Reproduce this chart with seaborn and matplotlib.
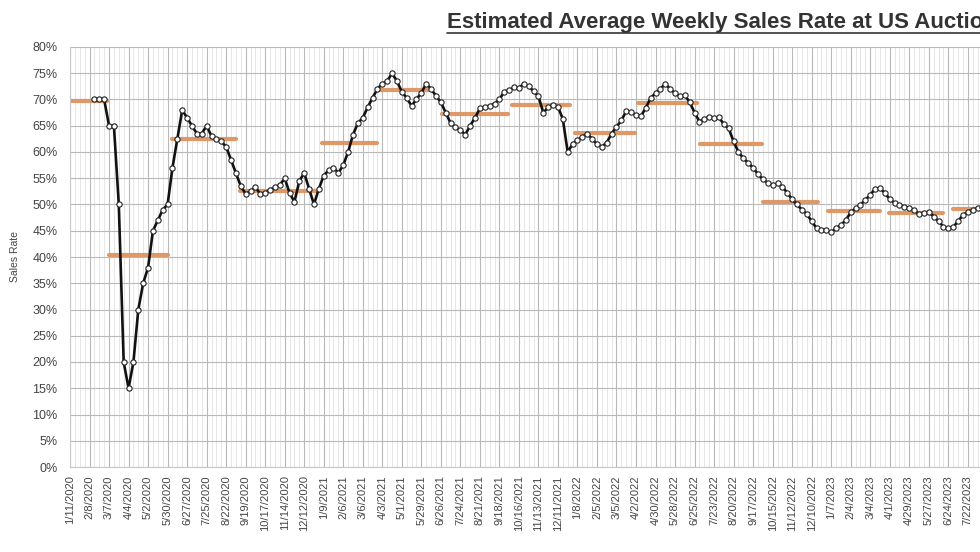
import matplotlib
matplotlib.use("Agg")
import matplotlib.pyplot as plt
from matplotlib.lines import Line2D
import numpy as np
import pandas as pd
import seaborn as sns

# ---------------- data ----------------
axis_start = "2020-01-11"          # first category on the axis
first_point = "2020-02-15"         # first weekly observation
sales_rate = [
    70, 70, 70, 65, 65, 50, 20, 15, 20, 30, 35, 38, 45, 47, 49, 50,
    57, 62.5, 68, 66.5, 65, 63.5, 63.5, 65, 63, 62.5, 62, 61, 58.5, 56,
    53.5, 52, 52.5, 53.3, 52, 52.2, 52.8, 53.3, 53.7, 55, 52.2, 50.5, 54.5, 56,
    53, 50, 53, 55.5, 56.5, 57, 56, 57.5, 60, 63.3, 65.5, 66.5, 68.5, 70.3,
    72, 73, 73.5, 75, 73.5, 71.5, 70.3, 68.8, 70, 71.3, 73, 72, 70.7, 69.5,
    67.5, 65.5, 64.7, 64.2, 63.3, 65, 66.5, 68.3, 68.6, 68.8, 69.2, 70, 71.5, 71.8,
    72.3, 72.2, 73, 72.5, 71.6, 70.6, 67.5, 68.5, 69, 68.6, 66.3, 60, 61.5, 62.3,
    62.9, 63.5, 62.5, 61.5, 61, 61.8, 63.5, 64.8, 66, 67.8, 67.6, 67, 66.8, 68.4,
    70.3, 71.2, 72, 73, 72, 71.2, 70.6, 70.8, 69.5, 67.5, 65.8, 66.3, 66.7, 66.5,
    66.6, 65.3, 64.5, 62, 60, 58.8, 57.9, 57, 55.8, 54.8, 54.1, 53.7, 54, 53.4,
    52.2, 51, 50, 49, 48.2, 46.8, 45.5, 45.1, 45.1, 44.7, 45.5, 46.1, 47, 48.5,
    49.3, 49.9, 50.9, 51.8, 53, 53.1, 52.2, 51, 50.3, 49.9, 49.6, 49.3, 49, 48.1,
    48.3, 48.6, 47.7, 46.8, 45.8, 45.5, 45.7, 46.8, 48, 48.6, 49, 49.3, 49.5,
]
# period averages (orange bars)
avg_start = ["2020-01-11", "2020-03-07", "2020-06-05", "2020-09-11", "2021-01-06",
             "2021-03-28", "2021-06-27", "2021-10-06", "2022-01-05", "2022-04-05",
             "2022-07-03", "2022-10-01", "2023-01-02", "2023-03-31", "2023-07-01"]
avg_end = ["2020-03-04", "2020-05-31", "2020-09-05", "2021-01-01", "2021-03-26",
           "2021-06-13", "2021-10-01", "2021-12-29", "2022-04-01", "2022-06-29",
           "2022-09-30", "2022-12-19", "2023-03-18", "2023-06-16", "2023-09-30"]
avg_value = [69.8, 40.4, 62.5, 52.6, 61.7, 71.9, 67.3, 68.9, 63.6, 69.4,
             61.6, 50.4, 48.8, 48.3, 49.2]
y_ticks = list(range(0, 81, 5))
title = "Estimated Average Weekly Sales Rate at US Auctions"
y_label = "Sales Rate"

# ---------------- figure ----------------
sns.set_style("white")
plt.rcParams["font.family"] = ["Liberation Sans", "DejaVu Sans"]

fig = plt.figure(figsize=(9.8, 5.52), dpi=100)
ax = fig.add_axes([70 / 980, 85 / 552, 1 - 70 / 980, 420 / 552])

dates = pd.date_range(first_point, periods=len(sales_rate), freq="7D")
df = pd.DataFrame({"date": dates, "rate": sales_rate})

# orange period averages (behind the line)
for s, e, v in zip(avg_start, avg_end, avg_value):
    seg = pd.DataFrame({"date": pd.to_datetime([s, e]), "rate": [v, v]})
    sns.lineplot(data=seg, x="date", y="rate", ax=ax, color="#DE9460",
                 linewidth=3.0, alpha=0.95, zorder=2)

sns.lineplot(data=df, x="date", y="rate", ax=ax, color="#111111",
             linewidth=1.9, marker="o", markersize=3.8,
             markerfacecolor="white", markeredgecolor="#222222",
             markeredgewidth=0.8, zorder=3)

# ticks
tick_dates = pd.date_range(axis_start, periods=50, freq="28D")
ax.set_xticks(tick_dates)
ax.set_xticklabels([f"{d.month}/{d.day}/{d.year}" for d in tick_dates],
                   rotation=90, fontsize=8, color="#444444")
ax.set_xticks(pd.date_range(axis_start, periods=200, freq="7D"), minor=True)
ax.set_yticks(y_ticks)
ax.set_yticklabels([f"{t}%" for t in y_ticks], fontsize=9, color="#444444")
ax.tick_params(axis="both", which="both", length=0)
ax.tick_params(axis="y", pad=9)
ax.tick_params(axis="x", pad=6)

# limits (after ticks, which can widen the view)
x0 = pd.Timestamp(axis_start)
ax.set_xlim(x0, x0 + pd.Timedelta(days=7 * 186.5))
ax.set_ylim(0, 80)

ax.grid(which="major", axis="both", color="#b9b9b9", linewidth=0.8)
ax.grid(which="minor", axis="x", color="#e2e2e2", linewidth=0.6)
ax.set_axisbelow(True)
for side in ["top", "right"]:
    ax.spines[side].set_visible(False)
for side in ["left", "bottom"]:
    ax.spines[side].set_color("#c8c8c8")
    ax.spines[side].set_linewidth(0.8)

ax.set_xlabel("")
ax.set_ylabel(y_label, fontsize=7.5, color="#444444")
ax.yaxis.set_label_coords(-50 / 910, 0.5)

t = fig.text(447 / 980, 1 - 28 / 552, title, fontsize=16, fontweight="bold",
             color="#333333", ha="left", va="baseline")

fig.canvas.draw()
bb = t.get_window_extent()
fig.add_artist(Line2D([bb.x0 / 980, bb.x1 / 980], [(552 - 33) / 552] * 2,
                      transform=fig.transFigure, color="#333333", linewidth=1.2))

fig.savefig("out.png", dpi=100)
